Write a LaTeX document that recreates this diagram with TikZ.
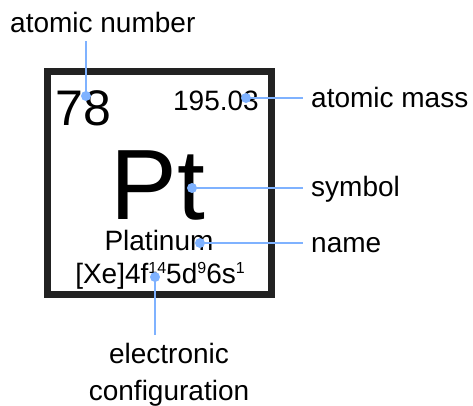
\documentclass[tikz,border=0pt]{standalone}
\usepackage{fontspec}
\setmainfont{Liberation Sans}
\definecolor{leadblue}{HTML}{7FB2FF}
\definecolor{framegray}{HTML}{222222}
\newcommand{\fs}[1]{\fontsize{#1}{#1}\selectfont}
\newcommand{\sups}[1]{\raisebox{10pt}{\fs{16}#1}}
\tikzset{elembox/.style={draw=framegray, line width=7pt, inner sep=0pt},
  txt/.style={inner sep=0pt, font=\fs{28}},
  lead/.style={leadblue, line width=2pt},
  dot/.style={circle, fill=leadblue, inner sep=0pt, minimum size=10pt}}

\begin{document}
\begin{tikzpicture}[x=1pt, y=-1pt]
            \useasboundingbox (0,0) rectangle (473,405);
            \node[elembox, minimum width=224pt, minimum height=223pt] (cell) at (159.5,182.5) {};
            % Element entries
            \node[txt, anchor=base west, font=\fs{50}] (num) at (55,125) {78};
            \node[txt, anchor=base east] (mass) at (259,110) {195.03};
            \node[txt, anchor=base, font=\fs{100}] (sym) at (158,219) {\raisebox{0pt}[\height][0pt]{Pt}};
            \node[txt, anchor=base] (name) at (159,250) {Platinum};
            \node[txt, anchor=base] (conf) at (160,283) {[Xe]4f\sups{14}5d\sups{9}6s\sups{1}};
            % Labels
            \node[txt, anchor=base west] (lnum) at (10,32) {atomic number};
            \node[txt, anchor=base west] (lmass) at (311,107) {atomic mass};
            \node[txt, anchor=base west] (lsym) at (311,196) {symbol};
            \node[txt, anchor=base west] (lname) at (311,252) {name};
            \node[txt, anchor=base, align=center] (lconf) at (169,400) {electronic\\[9pt]configuration};
            % Leader lines
            \coordinate (enum) at (86,41); \coordinate (emass) at (303,98); \coordinate (esym) at (303,188);
            \coordinate (ename) at (303,243); \coordinate (econf) at (155,335);
            \node[dot] (dnum) at (86,96) {}; \node[dot] (dmass) at (246,98) {}; \node[dot] (dsym) at (192,188) {};
            \node[dot] (dname) at (200,243) {}; \node[dot] (dconf) at (155,277) {};
            \draw[lead] (enum) -- (dnum.center) (dmass.center) -- (emass) (dsym.center) -- (esym)
                (dname.center) -- (ename) (dconf.center) -- (econf);
        \end{tikzpicture}
\end{document}
